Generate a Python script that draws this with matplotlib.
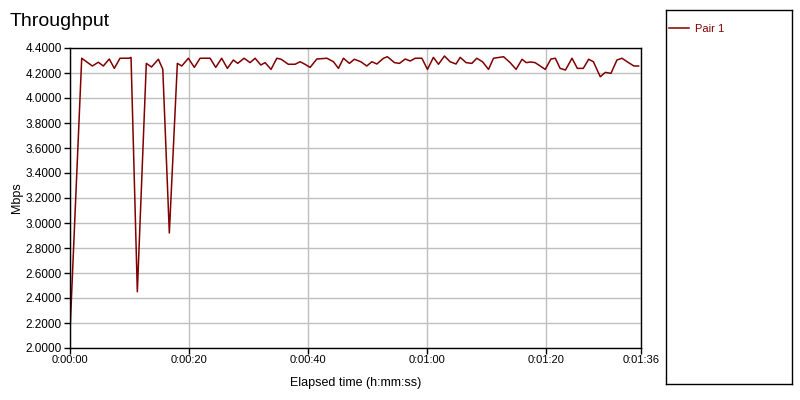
import matplotlib
matplotlib.use('Agg')
import matplotlib.pyplot as plt
from matplotlib.ticker import FuncFormatter, MultipleLocator

# elapsed time (s) and throughput (Mbps)
elapsed = [0.0, 1.97, 3.75, 4.77, 5.6, 6.6, 7.45, 8.41, 9.92, 10.26,
           11.32, 12.83, 13.7, 14.86, 15.6, 16.7, 18.05, 18.79, 19.9, 20.9,
           21.87, 23.55, 24.5, 25.5, 26.46, 27.47, 28.2, 29.27, 30.28, 31.12,
           32.08, 32.8, 33.8, 34.77, 35.5, 36.7, 37.85, 38.69, 39.5, 40.37,
           41.5, 43.2, 44.3, 45.13, 45.97, 46.98, 47.8, 48.9, 49.9, 50.75,
           51.6, 52.7, 53.37, 54.55, 55.4, 56.35, 57.2, 58.03, 59.16, 60.1,
           61.1, 61.95, 62.96, 63.9, 64.9, 65.6, 66.6, 67.57, 68.4, 69.35,
           70.36, 71.2, 72.9, 74.0, 75.0, 76.0, 76.7, 77.4, 78.2, 79.9,
           80.86, 81.6, 82.4, 83.3, 84.4, 85.3, 86.3, 87.2, 88.0, 89.15,
           90.0, 90.95, 91.96, 92.8, 93.9, 94.8, 95.6]
pair1 = [2.13, 4.318, 4.256, 4.286, 4.256, 4.312, 4.237, 4.318, 4.318, 4.325,
         2.45, 4.277, 4.248, 4.31, 4.23, 2.92, 4.277, 4.256, 4.318, 4.245,
         4.318, 4.318, 4.245, 4.318, 4.237, 4.304, 4.277, 4.318, 4.283, 4.318,
         4.264, 4.283, 4.229, 4.318, 4.31, 4.27, 4.27, 4.29, 4.27, 4.245,
         4.312, 4.318, 4.29, 4.237, 4.318, 4.277, 4.31, 4.29, 4.256, 4.29,
         4.272, 4.318, 4.33, 4.283, 4.277, 4.312, 4.296, 4.318, 4.318, 4.229,
         4.325, 4.27, 4.336, 4.29, 4.272, 4.325, 4.283, 4.277, 4.318, 4.29,
         4.229, 4.318, 4.33, 4.283, 4.229, 4.31, 4.283, 4.288, 4.283, 4.229,
         4.312, 4.318, 4.237, 4.224, 4.318, 4.237, 4.237, 4.31, 4.29, 4.17,
         4.205, 4.197, 4.304, 4.318, 4.283, 4.256, 4.256]
x_ticks = [0, 20, 40, 60, 80, 96]
series_name = 'Pair 1'

LINE_COLOR = '#800000'


def hms(sec, pos=None):
    sec = int(round(sec))
    return f'{sec // 3600}:{(sec % 3600) // 60:02d}:{sec % 60:02d}'


plt.rcParams['font.family'] = ['Liberation Sans', 'DejaVu Sans']

fig = plt.figure(figsize=(8, 4), dpi=100)
ax = fig.add_axes([70 / 800, 52 / 400, 571 / 800, 300 / 400])

line, = ax.plot(elapsed, pair1, color=LINE_COLOR, linewidth=1.1, label=series_name)

ax.set_xlim(0, 96)
ax.set_ylim(2.0, 4.4)
ax.set_xticks(x_ticks)
ax.xaxis.set_major_formatter(FuncFormatter(hms))
ax.yaxis.set_major_locator(MultipleLocator(0.2))
ax.yaxis.set_major_formatter(FuncFormatter(lambda v, p: f'{v:.4f}'))
ax.tick_params(length=4, width=1, direction='out')
ax.tick_params(axis='x', labelsize=8, pad=1)
ax.tick_params(axis='y', labelsize=8.5, pad=2)
ax.grid(True, color='#c0c0c0', linewidth=1)
ax.set_axisbelow(True)
for s in ax.spines.values():
    s.set_color('black')
    s.set_linewidth(1)

ax.set_xlabel('Elapsed time (h:mm:ss)', fontsize=9, labelpad=9)
ax.set_ylabel('Mbps', fontsize=9, labelpad=2)

fig.text(10 / 800, 1 - 22 / 400, 'Throughput', fontsize=14, va='center', ha='left')

# legend panel on the right
leg_ax = fig.add_axes([666 / 800, 16 / 400, 126 / 800, 374 / 400])
leg_ax.set_xticks([])
leg_ax.set_yticks([])
for s in leg_ax.spines.values():
    s.set_color('black')
    s.set_linewidth(1)
leg = leg_ax.legend(handles=[line], loc='upper left', frameon=False,
                    fontsize=8, handlelength=1.8, handletextpad=0.5,
                    borderaxespad=0.0, borderpad=0.3,
                    bbox_to_anchor=(0.0, 1 - 11 / 374))
for t in leg.get_texts():
    t.set_color(LINE_COLOR)

fig.savefig('out.png', dpi=100)
